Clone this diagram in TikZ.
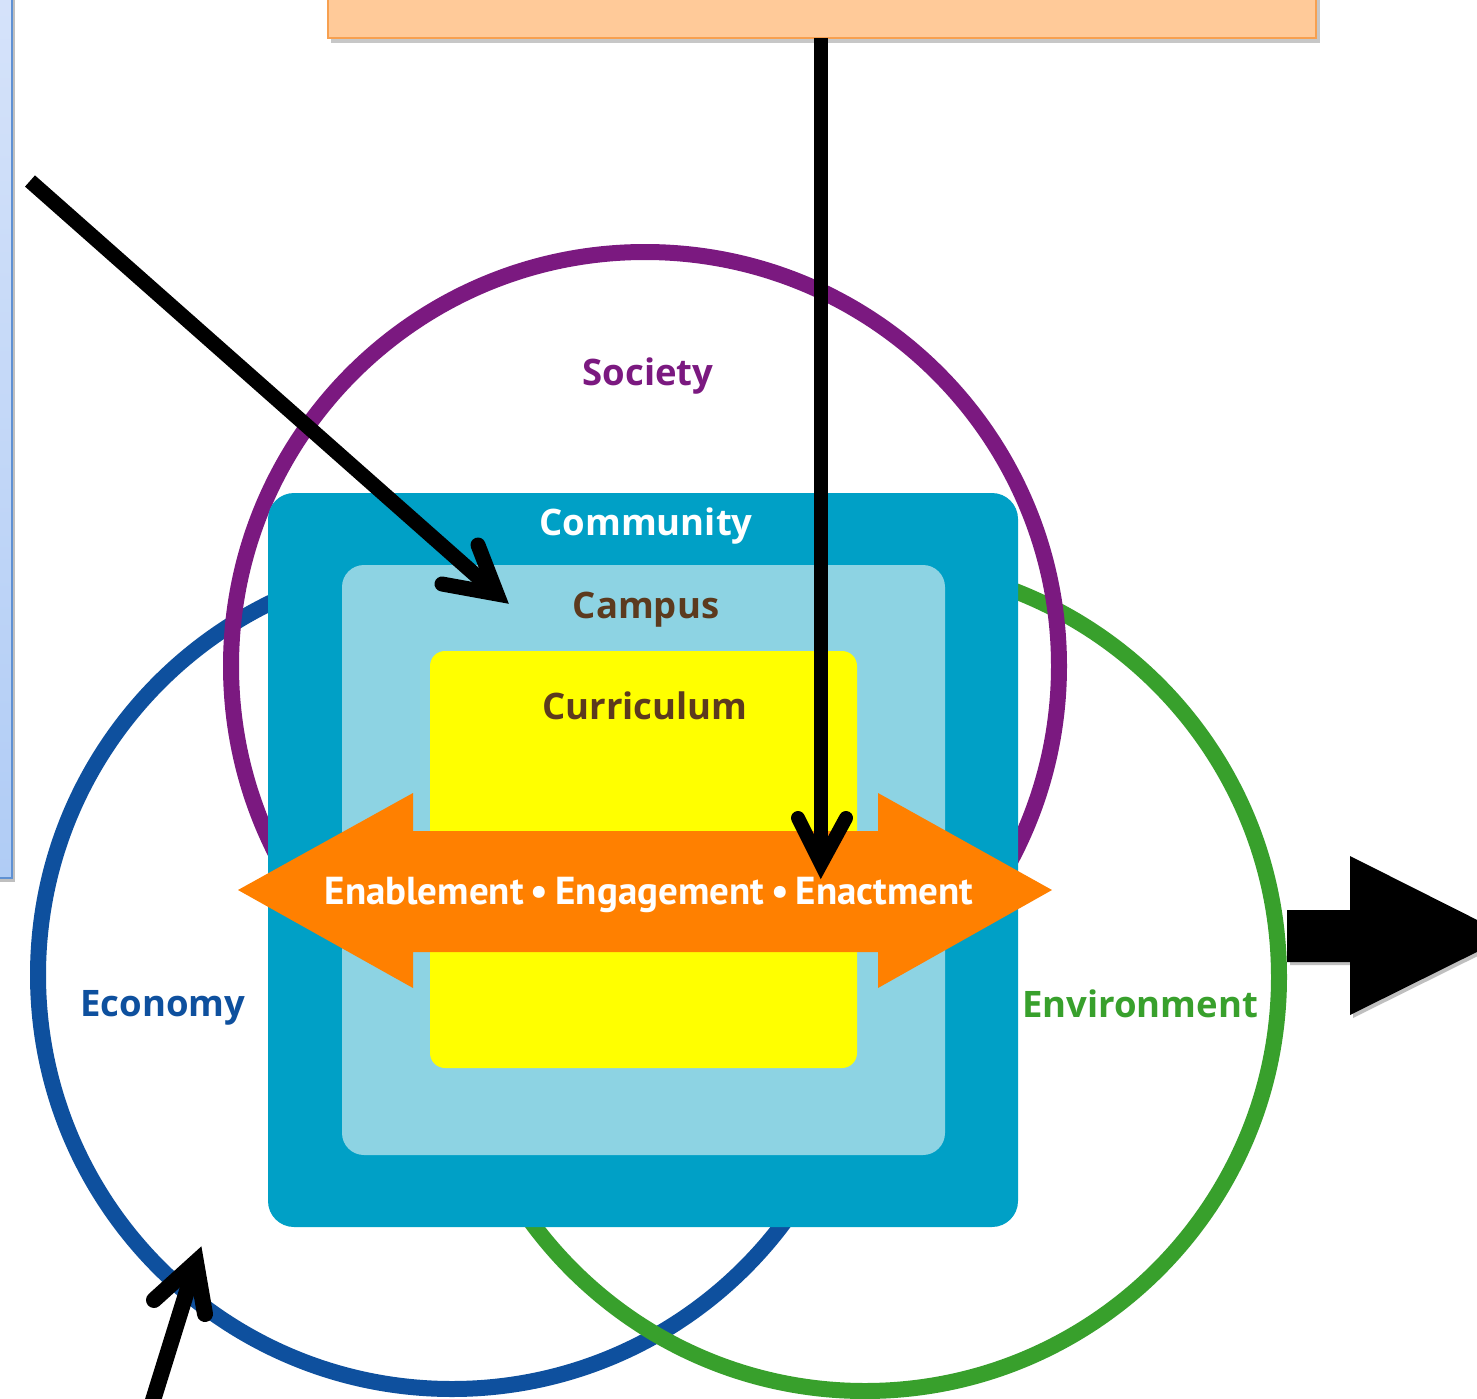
\documentclass[tikz,border=0pt]{standalone}
\usepackage{fontspec}
\setmainfont{Open Sans}
\newfontfamily\bandfont{PT Sans}
\usetikzlibrary{calc}

\definecolor{socpurple}{RGB}{123,25,128}
\definecolor{ecoblue}{RGB}{14,80,158}
\definecolor{envgreen}{RGB}{56,160,44}
\definecolor{commteal}{RGB}{0,160,198}
\definecolor{campblue}{RGB}{141,211,227}
\definecolor{curryellow}{RGB}{255,255,0}
\definecolor{actorange}{RGB}{255,128,0}
\definecolor{labelbrown}{RGB}{92,58,30}
\definecolor{notefill}{RGB}{255,202,153}
\definecolor{noteedge}{RGB}{247,160,80}
\definecolor{sidetop}{RGB}{214,227,250}
\definecolor{sidebottom}{RGB}{176,204,245}
\definecolor{sideedge}{RGB}{95,145,211}

\tikzset{
  ring/.style={line width=16pt},
  lbl/.style={anchor=base, inner sep=0pt, font=\fontsize{36.5}{40}\selectfont\bfseries},
  bandlbl/.style={anchor=base, inner sep=0pt, font=\bandfont\fontsize{39}{42}\selectfont\bfseries},
  pointer/.style={line width=15pt, black},
  barb/.style={line width=15pt, black, line cap=round, line join=miter},
}

\begin{document}
\begin{tikzpicture}[x=1pt,y=-1pt]
\useasboundingbox (0,0) rectangle (1477,1399);
\clip (0,0) rectangle (1477,1399);
\fill[white] (0,0) rectangle (1477,1399);

% side panel on the left
\fill[black!25] (-20,-20) rectangle (15,882);
\shade[top color=sidetop, bottom color=sidebottom] (-20,-20) rectangle (12,878);
\draw[sideedge, line width=2pt] (-20,-20) rectangle (12,878);

% note box at the top
\fill[black!22] (331,-20) rectangle (1320,43);
\fill[notefill, draw=noteedge, line width=2pt] (328,-20) rectangle (1316,38);

% the three spheres
\draw[ring, ecoblue] (452,975) circle[radius=414];
\draw[ring, envgreen] (865,977) circle[radius=414];
\draw[ring, socpurple] (645,666) circle[radius=414];

% nested frames
\fill[commteal, rounded corners=26pt] (268,493) rectangle (1018,1227);
\fill[campblue, rounded corners=22pt] (342,565) rectangle (945,1155);
\fill[curryellow, rounded corners=15pt] (430,651) rectangle (857,1068);

% double-headed band
\fill[actorange] (238,890) -- (413,793) -- (413,831) -- (878,831) -- (878,793)
  -- (1052,890) -- (878,988) -- (878,952) -- (413,952) -- (413,988) -- cycle;

% labels
\node[lbl, socpurple] (society) at (648,385) {Society};
\node[lbl, white] (community) at (646,535) {Community};
\node[lbl, labelbrown] (campus) at (646,618) {Campus};
\node[lbl, labelbrown] (curriculum) at (645,719) {Curriculum};
\node[lbl, ecoblue] (economy) at (163,1016) {Economy};
\node[lbl, envgreen] (environment) at (1140,1017) {Environment};
\node[bandlbl, white] (band) at (649,904) {Enablement\hspace{0.18em}•\hspace{0.18em}Engagement\hspace{0.18em}•\hspace{0.18em}Enactment};

% pointer arrows
\coordinate (diagStart) at (30,181);
\coordinate (diagTip) at (497,594);
\coordinate (diagWingA) at (478,545);
\coordinate (diagWingB) at (442,584);
\draw[pointer] (diagStart) -- (diagTip);
\draw[barb] (diagWingA) -- (diagTip) -- (diagWingB);

\coordinate (vertStart) at (821,38);
\coordinate (vertTip) at (821,864);
\coordinate (vertWingA) at (798,818);
\coordinate (vertWingB) at (846,818);
\draw[pointer, line width=14pt] (vertStart) -- (vertTip);
\draw[barb, line width=14pt] (vertWingA) -- (vertTip) -- (vertWingB);

\coordinate (upStart) at (150,1410);
\coordinate (upTip) at (196,1262);
\coordinate (upWingA) at (154,1300);
\coordinate (upWingB) at (205,1314);
\draw[pointer, line width=16pt] (upStart) -- (upTip);
\draw[barb, line width=16pt] (upWingA) -- (upTip) -- (upWingB);

% block arrow on the right
\fill[black!25] (1290,913) -- (1353,913) -- (1353,859) -- (1512,939) -- (1353,1018)
  -- (1353,965) -- (1290,965) -- cycle;
\fill[black] (1287,910) -- (1350,910) -- (1350,856) -- (1509,936) -- (1350,1015)
  -- (1350,962) -- (1287,962) -- cycle;
\end{tikzpicture}
\end{document}
